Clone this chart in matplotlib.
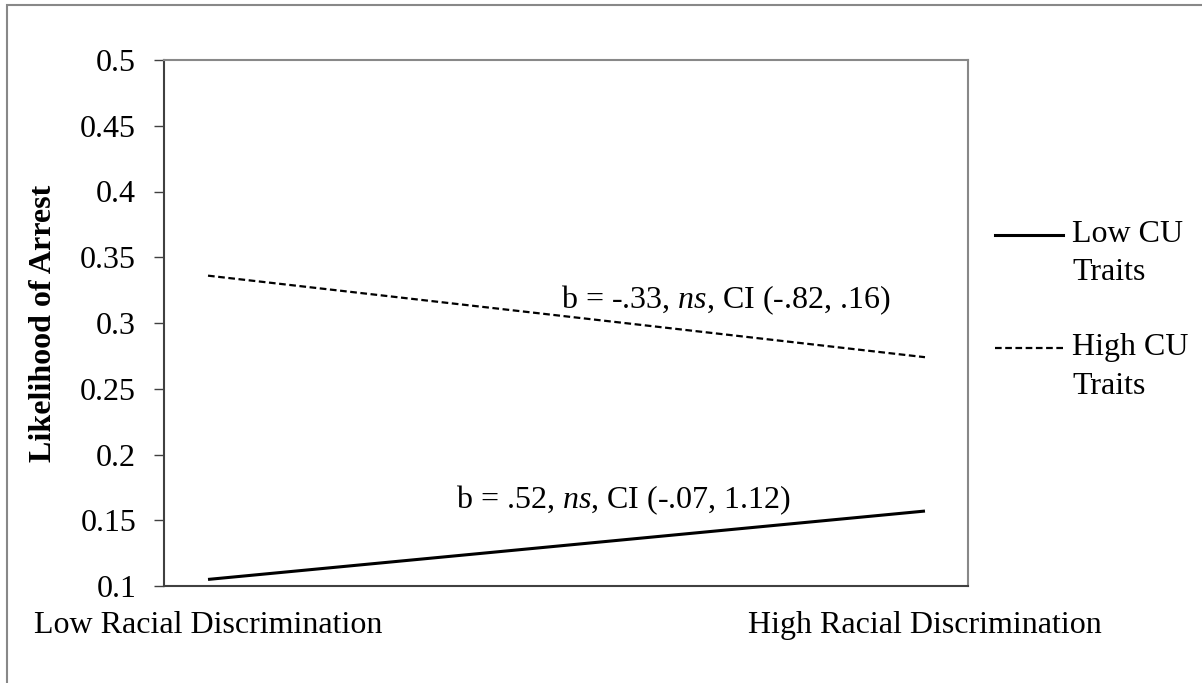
import matplotlib.pyplot as plt
from matplotlib.lines import Line2D
from matplotlib.patches import Rectangle

plt.rcParams['font.family'] = 'Liberation Serif'
plt.rcParams['mathtext.fontset'] = 'custom'
plt.rcParams['mathtext.rm'] = 'Liberation Serif'
plt.rcParams['mathtext.it'] = 'Liberation Serif:italic'

# data
categories = ['Low Racial Discrimination', 'High Racial Discrimination']
low_cu = [0.105, 0.157]
high_cu = [0.336, 0.274]
series_names = ['Low CU\nTraits', 'High CU\nTraits']
yticks = [0.1, 0.15, 0.2, 0.25, 0.3, 0.35, 0.4, 0.45, 0.5]
ytick_labels = ['0.1', '0.15', '0.2', '0.25', '0.3', '0.35', '0.4', '0.45', '0.5']
note_high = r'b = -.33, $ns$, CI (-.82, .16)'
note_low = r'b = .52, $ns$, CI (-.07, 1.12)'

fs = 23
W, H = 1202, 683
fig = plt.figure(figsize=(W / 100, H / 100), dpi=100)
ax = fig.add_axes([164 / W, 1 - 586 / H, (968 - 164) / W, (586 - 60) / H])

x = [0, 1]
ax.plot(x, low_cu, color='black', lw=2.2, solid_capstyle='butt')
ax.plot(x, high_cu, color='black', lw=1.6, ls=(0, (3, 1.6)))

ax.set_xlim(-0.0614, 1.06)
ax.set_ylim(0.1, 0.5)
ax.set_yticks(yticks)
ax.set_yticklabels(ytick_labels, fontsize=fs)
ax.set_xticks(x)
ax.set_xticklabels(categories, fontsize=fs)
ax.tick_params(axis='x', length=0, pad=18)
ax.tick_params(axis='y', length=7, width=1, color='#404040', direction='out', pad=13)

for s in ['left', 'bottom']:
    ax.spines[s].set_color('#404040')
    ax.spines[s].set_linewidth(1.5)
for s in ['top', 'right']:
    ax.spines[s].set_color('#888888')
    ax.spines[s].set_linewidth(1.5)

ax.text(0.722, 0.3175, note_high, fontsize=fs, ha='center', va='center')
ax.text(0.580, 0.1654, note_low, fontsize=fs, ha='center', va='center')

fig.text(44 / W, 1 - 323 / H, 'Likelihood of Arrest', fontsize=fs, fontweight='bold',
         rotation=90, ha='center', va='center')

# legend, drawn by hand so the line sits on the first text line
styles = [dict(lw=2.2, ls='-'), dict(lw=1.6, ls=(0, (3, 1.6)))]
for i, (name, st) in enumerate(zip(series_names, styles)):
    yl = 1 - (235 + 113 * i) / H
    fig.add_artist(Line2D([995 / W, 1063 / W], [yl, yl], color='black', **st))
    first, second = name.split('\n')
    fig.text(1072 / W, yl, first, fontsize=fs, ha='left', va='center')
    fig.text(1072 / W, yl - 38 / H, second, fontsize=fs, ha='left', va='center')

# outer frame
fig.add_artist(Rectangle((7 / W, -0.1), 1.2, 0.1 + 1 - 5 / H, transform=fig.transFigure,
                         fill=False, edgecolor='#888888', lw=1.5))

fig.savefig('out.png', dpi=100)
